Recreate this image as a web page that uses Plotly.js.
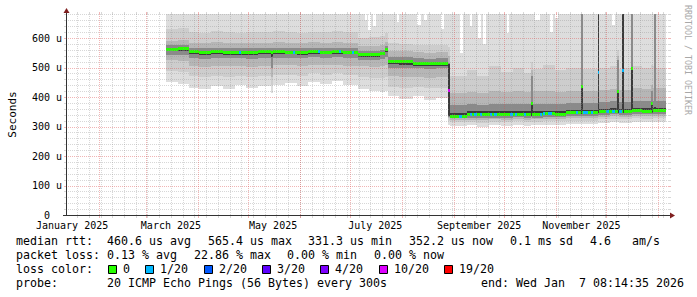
<!DOCTYPE html>
<html>
<head>
<meta charset="utf-8">
<script src="https://cdn.plot.ly/plotly-3.0.1.min.js"></script>
<style>
html,body{margin:0;padding:0;background:#ffffff;}
#chart{width:697px;height:297px;}
</style>
</head>
<body>
<div id="chart"></div>
<script>
// ------------------------------------------------------------------ DATA
const startTime = "2025-01-12 08:14:35";
const endTime   = "2026-01-07 08:14:35";
const dataEnd   = "2026-01-05 12:00";

// step segments (start of each consolidated step); values in microseconds
const segStart = ["2025-03-13 00:00","2025-03-20 00:00","2025-03-26 18:00","2025-04-02","2025-04-09","2025-04-16","2025-04-23","2025-04-30","2025-05-07","2025-05-15","2025-05-16","2025-05-23","2025-05-30","2025-06-06","2025-06-13","2025-06-20","2025-06-27","2025-07-05 16:00","2025-07-12","2025-07-18 18:00","2025-07-21 18:00","2025-07-23 14:00","2025-07-30","2025-08-07 12:00","2025-08-14","2025-08-21","2025-08-28 14:00","2025-08-29 14:00","2025-09-08 16:00","2025-09-15","2025-09-22","2025-09-29","2025-10-06","2025-10-13","2025-10-17 06:00","2025-10-17 18:00","2025-10-24","2025-10-31","2025-11-07","2025-11-16 02:00","2025-11-16 14:00","2025-11-25 23:00","2025-11-26 11:00","2025-12-03","2025-12-07 21:00","2025-12-08 09:00","2025-12-10 21:00","2025-12-11 09:00","2025-12-16 01:00","2025-12-16 13:00","2025-12-22","2025-12-28 00:00","2025-12-28 12:00","2025-12-29 23:00","2025-12-30 11:00"];

const pingLo1 = [450,445,432,426,436,428,441,432,438,414,442,446,438,452,445,455,440,426,420,418,422,402,394,405,390,396,305,303,304,300,305,302,306,303,305,304,306,304,308,308,308,312,312,314,314,313,313,313,316,316,315,315,316,316,316];
const pingLo2 = [487,485,470,468,472,468,472,468,471,440,474,476,472,480,476,482,474,468,465,465,468,435,430,434,430,432,320,314,315,313,316,315,317,315,316,316,318,317,320,320,320,324,324,326,326,325,325,325,328,328,327,327,328,328,328];
const pingLo3 = [524,522,505,503,506,504,505,503,506,468,507,508,506,510,507,510,506,505,503,505,510,470,468,469,466,468,330,322,323,322,324,323,325,323,324,324,326,325,328,328,328,333,333,334,334,333,333,333,336,336,335,335,336,336,336];
const pingLo4 = [543,543,532,530,532,531,531,530,532,498,533,533,532,534,533,534,532,526,525,528,535,500,499,497,496,497,333,328,330,329,330,330,331,330,331,330,332,331,335,335,335,340,340,341,341,340,340,340,343,343,342,342,343,343,343];
const pingLo5 = [555,556,545,543,545,544,544,544,545,535,545,545,544,545,545,546,545,537,536,541,551,511,510,506,505,506,335,331,336,335,336,336,337,336,337,336,338,337,341,341,341,345,345,346,346,345,345,345,348,348,347,347,348,348,348];
const medianRtt = [562,565,553,551,553,552,551,552,553,552,553,552,551,553,552,553,552,543,543,548,560,520,519,514,513,514,423,335,341,340,341,341,342,341,378,341,343,342,346,437,346,484,350,351,417,350,490,350,497,353,352,377,353,353,353];
const pingHi5 = [567,570,558,556,558,557,556,557,558,557,558,557,556,558,557,558,557,548,548,553,564,526,525,520,519,520,512,346,352,351,352,352,353,352,381,352,354,353,357,440,357,720,361,362,420,361,720,361,500,364,363,380,364,365,364];
const pingHi4 = [575,578,567,565,567,566,565,566,567,566,567,566,565,567,566,567,566,556,556,561,572,537,536,531,530,531,515,372,376,374,378,376,378,376,470,377,378,377,380,720,380,720,384,385,525,384,720,384,700,387,386,420,387,720,387];
const pingHi3 = [591,593,584,582,585,583,582,583,584,584,585,583,582,585,584,585,583,572,572,576,588,556,555,552,550,552,540,412,418,415,422,418,420,418,490,420,420,418,422,720,422,720,425,428,540,425,720,425,720,430,428,440,430,720,430];
const pingHi2 = [630,634,622,618,624,620,618,622,620,622,624,620,618,622,620,624,620,600,602,606,618,582,580,578,576,578,570,470,490,470,505,485,500,480,520,495,510,490,500,720,495,720,500,505,560,495,720,500,720,505,500,510,505,720,500];
const pingHi1 = [760,760,760,760,760,760,760,760,760,760,760,760,760,760,760,760,760,740,740,740,740,700,700,700,700,700,700,720,720,720,720,720,720,720,720,720,720,720,720,720,720,720,720,720,720,720,720,720,720,720,720,720,720,720,720];

// steps where the highest ping stayed below the top of the graph
const maxDipStart = ["2025-07-09 20:00","2025-07-11 20:00","2025-07-14 14:00","2025-07-28 22:00","2025-08-09 22:00","2025-08-14 16:00","2025-08-24 18:00","2025-09-04 14:00","2025-09-10 12:00","2025-09-15 08:00","2025-09-18 08:00","2025-10-02 14:00","2025-10-19 08:00","2025-10-28 08:00","2025-10-31 08:00","2025-12-04 08:00"];
const maxDipDays  = [1.5,1.5,2,1.5,2.5,1,1,1.5,1.5,2,2,1.5,3,1.5,1.5,1.5];
const maxDipVal   = [660,628,640,655,645,662,630,550,640,600,580,617,662,620,668,645];

// steps with packet loss (count of lost pings out of 20)
const lossStart = ["2025-04-26 00:00","2025-05-28 00:00","2025-06-12 00:00","2025-06-24 18:00","2025-07-02 12:00","2025-08-28 14:00","2025-09-04 12:00","2025-09-10 12:00","2025-09-13 12:00","2025-09-16 18:00","2025-09-22 16:00","2025-09-25 00:00","2025-10-04 12:00","2025-10-07 12:00","2025-10-12 12:00","2025-10-22 12:00","2025-10-24 06:00","2025-10-27 06:00","2025-11-13 00:00","2025-11-17 00:00","2025-11-22 00:00","2025-11-25 23:00","2025-12-01 06:00","2025-12-04 21:00","2025-12-09 00:00","2025-12-10 21:00"];
const lossDays  = [1,1,1,1,1,1,1,1.5,1,1,1,1.5,1.5,1,1.5,1,1,2.5,1,3,1,0.5,1,1,1,0.5];
const lossCount = [1,1,1,1,1,10,1,1,1,1,1,1,1,1,1,1,1,1,1,1,1,1,1,1,1,1];

const lossLevels = [0,1,2,3,4,10,19];
const lossLabels = ["0","1/20","2/20","3/20","4/20","10/20","19/20"];
const lossColors = ["#26ff00","#00b8ff","#0059ff","#5e00ff","#7e00ff","#dd00ff","#ff0000"];

const yTickVals = [0,100,200,300,400,500,600];
const yTickText = ["  0  ","100 u","200 u","300 u","400 u","500 u","600 u"];
const xTickDates = ["2025-01-16","2025-03-16","2025-05-16","2025-07-16","2025-09-16","2025-11-16"];
const xTickText = ["January 2025","March 2025","May 2025","July 2025","September 2025","November 2025"];

const rttStats  = ["median rtt:  460.6 us avg","565.4 us max","331.3 us min","352.2 us now","0.1 ms sd","4.6   am/s"];
const lossStats = ["packet loss: 0.13 % avg","22.86 % max","0.00 % min","0.00 % now"];
const lossTitle = "loss color:";
const probeText = "probe:       20 ICMP Echo Pings (56 Bytes) every 300s";
const endText   = "end: Wed Jan  7 08:14:35 2026";
const watermark = "RRDTOOL / TOBI OETIKER";

// ------------------------------------------------------------------ STYLE / GEOMETRY
const FONT = "DejaVu Sans Mono, monospace";
const L = 66, R = 669, T = 14, B = 215;
const yMax = 681.4;
const bandColors = ["#dddddd","#cdcdcd","#b6b6b6","#8a8a8a","#3a3a3a"];
const GRID = "rgba(143,143,143,0.36)";
const MGRID = "rgba(222,79,79,0.42)";
const AXIS = "#333333";
const ARROW = "#7f1f1f";
const DOT = "1px,1px";
const LEG = 11.63;
const CH = 7;
const nb = s => s.replace(/ /g,'\u00a0');

function toMs(s){
  const m = /^(\d{4})-(\d{2})-(\d{2})(?:[ T](\d{2}):(\d{2})(?::(\d{2}))?)?/.exec(s);
  return Date.UTC(+m[1], +m[2]-1, +m[3], +(m[4]||0), +(m[5]||0), +(m[6]||0));
}
function fmt(ms){ return new Date(ms).toISOString().slice(0,23).replace('T',' '); }
const t0 = toMs(startTime), t1 = toMs(endTime);
function pxX(ms){ return L + (ms - t0)/(t1 - t0)*(R - L); }
function pX(px){ return (px - L)/(R - L); }
function pY(py){ return (B - py)/(B - T); }
const DAY = 864e5;

// segments -> bar centres / widths
const segS = segStart.map(toMs);
const segE = segS.map((s,i)=> i+1<segS.length ? segS[i+1] : toMs(dataEnd));
const segX = segS.map((s,i)=> fmt((s+segE[i])/2));
const segW = segS.map((s,i)=> segE[i]-s);

const traces = [];
function bandTrace(lo, hi, color){
  return {type:'bar', x:segX, width:segW, base:lo, y:hi.map((h,i)=>h-lo[i]),
    marker:{color:color, line:{width:0}}, hoverinfo:'skip', showlegend:false};
}
const lows = [pingLo1,pingLo2,pingLo3,pingLo4,pingLo5];
const highs = [pingHi1,pingHi2,pingHi3,pingHi4,pingHi5];
traces.push(bandTrace(lows[0], highs[0], bandColors[0]));
// white where the maximum ping stays below the top
traces.push({type:'bar',
  x: maxDipStart.map((s,i)=>fmt(toMs(s)+maxDipDays[i]*DAY/2)),
  width: maxDipDays.map(d=>d*DAY),
  base: maxDipVal, y: maxDipVal.map(v=>900-v),
  marker:{color:'#ffffff', line:{width:0}}, hoverinfo:'skip', showlegend:false});
for(let k=1;k<5;k++) traces.push(bandTrace(lows[k], highs[k], bandColors[k]));

// median
const halfW = 1.5*yMax/(B-T);
traces.push({type:'bar', x:segX, width:segW, base:medianRtt.map(v=>v-halfW), y:medianRtt.map(()=>2*halfW),
  marker:{color:lossColors[0], line:{width:0}}, hoverinfo:'skip', showlegend:false});

function colorFor(c){ let col = lossColors[0]; lossLevels.forEach((lv,i)=>{ if(c>=lv) col = lossColors[i]; }); return col; }
function medianAt(ms){ for(let i=0;i<segS.length;i++){ if(ms>=segS[i] && ms<segE[i]) return medianRtt[i]; } return null; }
const lossMid = lossStart.map((s,i)=>toMs(s)+lossDays[i]*DAY/2);
traces.push({type:'bar', x:lossMid.map(fmt), width:lossDays.map(d=>d*DAY),
  base:lossMid.map(m=>medianAt(m)-halfW), y:lossMid.map(()=>2*halfW),
  marker:{color:lossCount.map(colorFor), line:{width:0}}, hoverinfo:'skip', showlegend:false});

// ------------------------------------------------------------------ SHAPES
const shapes = [];
function seg(x0,y0,x1,y1,color,dash){
  shapes.push({type:'line', xref:'paper', yref:'paper', layer:'above',
    x0:pX(x0), y0:pY(y0), x1:pX(x1), y1:pY(y1), line:{color:color, width:1, dash:dash||'solid'}});
}
// minor vertical (weekly)
for(let t=toMs("2025-01-19"); t<t1; t+=7*DAY){
  const c = Math.round(pxX(t)); if(c<=L || c>=R) continue;
  seg(c+0.5,B,c+0.5,T,GRID,DOT); seg(c+0.5,B+1,c+0.5,B+3,GRID); seg(c+0.5,T-2,c+0.5,T,GRID);
}
// minor horizontal
for(let v=20; v<yMax; v+=20){
  if(v%100===0) continue;
  const r = Math.round(B - v/yMax*(B-T));
  seg(L,r+0.5,R,r+0.5,GRID,DOT); seg(L-2,r+0.5,L,r+0.5,GRID); seg(R,r+0.5,R+2,r+0.5,GRID);
}
// major vertical (monthly)
for(let m=1; m<=12; m++){
  const c = Math.round(pxX(Date.UTC(2025,m,1))); if(c<=L || c>=R) continue;
  seg(c+0.5,B,c+0.5,T,MGRID,DOT); seg(c+0.5,B+1,c+0.5,B+3,MGRID); seg(c+0.5,T-2,c+0.5,T,MGRID);
}
// major horizontal
for(let v=100; v<yMax; v+=100){
  const r = Math.round(B - v/yMax*(B-T));
  seg(L,r+0.5,R,r+0.5,MGRID,DOT); seg(L-2,r+0.5,L,r+0.5,MGRID); seg(R,r+0.5,R+2,r+0.5,MGRID);
}
// axes
seg(L+0.5, B+1, L+0.5, 12, AXIS);
seg(63, B+0.5, 671, B+0.5, AXIS);
function tri(pts){
  const d = 'M ' + pts.map(p=>pX(p[0])+','+pY(p[1])).join(' L ') + ' Z';
  shapes.push({type:'path', xref:'paper', yref:'paper', layer:'above', path:d, fillcolor:ARROW, line:{width:0}});
}
tri([[63.5,13],[69.5,13],[66.5,8]]);
tri([[670,212.5],[670,218.5],[675,215.5]]);

// ------------------------------------------------------------------ LEGEND TEXT
const annotations = [];
function addText(text, px, py, extra){
  annotations.push(Object.assign({xref:'paper', yref:'paper', x:pX(px), y:pY(py), xanchor:'left', yanchor:'middle',
    text:nb(text), showarrow:false, font:{family:FONT, size:LEG, color:'#000'},
    borderpad:0, borderwidth:0}, extra||{}));
}
const rowY = [241.4, 255.4, 269.4, 283.4];
let x = 16;
rttStats.forEach(s=>{ addText(s, x, rowY[0]); x += s.length*CH + 16.7; });
x = 16;
lossStats.forEach(s=>{ addText(s, x, rowY[1]); x += s.length*CH + 16.7; });
addText(lossTitle, 16, rowY[2]);
let pos = 16 + lossTitle.length*CH + 15.6;
lossLabels.forEach((lab,i)=>{
  const bx = Math.floor(pos);
  shapes.push({type:'rect', xref:'paper', yref:'paper', layer:'above',
    x0:pX(bx+0.5), x1:pX(bx+8.5), y0:pY(273.5), y1:pY(265.5),
    fillcolor:lossColors[i], line:{color:'#000000', width:1}});
  addText(lab, pos+14.5, rowY[2]);
  pos = pos + 14.5 + lab.length*CH + 15.8;
});
addText(probeText, 16, rowY[3]);
addText(endText, 684, rowY[3], {xanchor:'right'});
annotations.push({xref:'paper', yref:'paper', x:pX(688), y:pY(60), xanchor:'center', yanchor:'middle',
  text:nb(watermark), textangle:90, showarrow:false,
  font:{family:FONT, size:8.3, color:'#a8a8a8'}, borderpad:0, borderwidth:0});

// ------------------------------------------------------------------ LAYOUT
const layout = {
  width:697, height:297,
  margin:{l:L, r:697-R, t:T, b:297-B, pad:0},
  paper_bgcolor:'#ffffff', plot_bgcolor:'#ffffff',
  barmode:'overlay', bargap:0, bargroupgap:0,
  showlegend:false, hovermode:false,
  xaxis:{type:'date', range:[fmt(t0), fmt(t1)], tickmode:'array', tickvals:xTickDates, ticktext:xTickText,
    showgrid:false, zeroline:false, showline:false, ticks:'', automargin:false, fixedrange:true,
    ticklabelstandoff:3,
    tickfont:{family:FONT, size:10, color:'#000'}},
  yaxis:{range:[0,yMax], tickmode:'array', tickvals:yTickVals, ticktext:yTickText.map(nb),
    showgrid:false, zeroline:false, showline:false, ticks:'outside', ticklen:1, tickcolor:'rgba(0,0,0,0)',
    automargin:false, fixedrange:true,
    tickfont:{family:FONT, size:10, color:'#000'},
    title:{text:'Seconds', font:{family:FONT, size:11, color:'#000'}, standoff:13}},
  shapes:shapes, annotations:annotations
};
Plotly.newPlot('chart', traces, layout, {displayModeBar:false, responsive:false});
</script>
</body>
</html>
